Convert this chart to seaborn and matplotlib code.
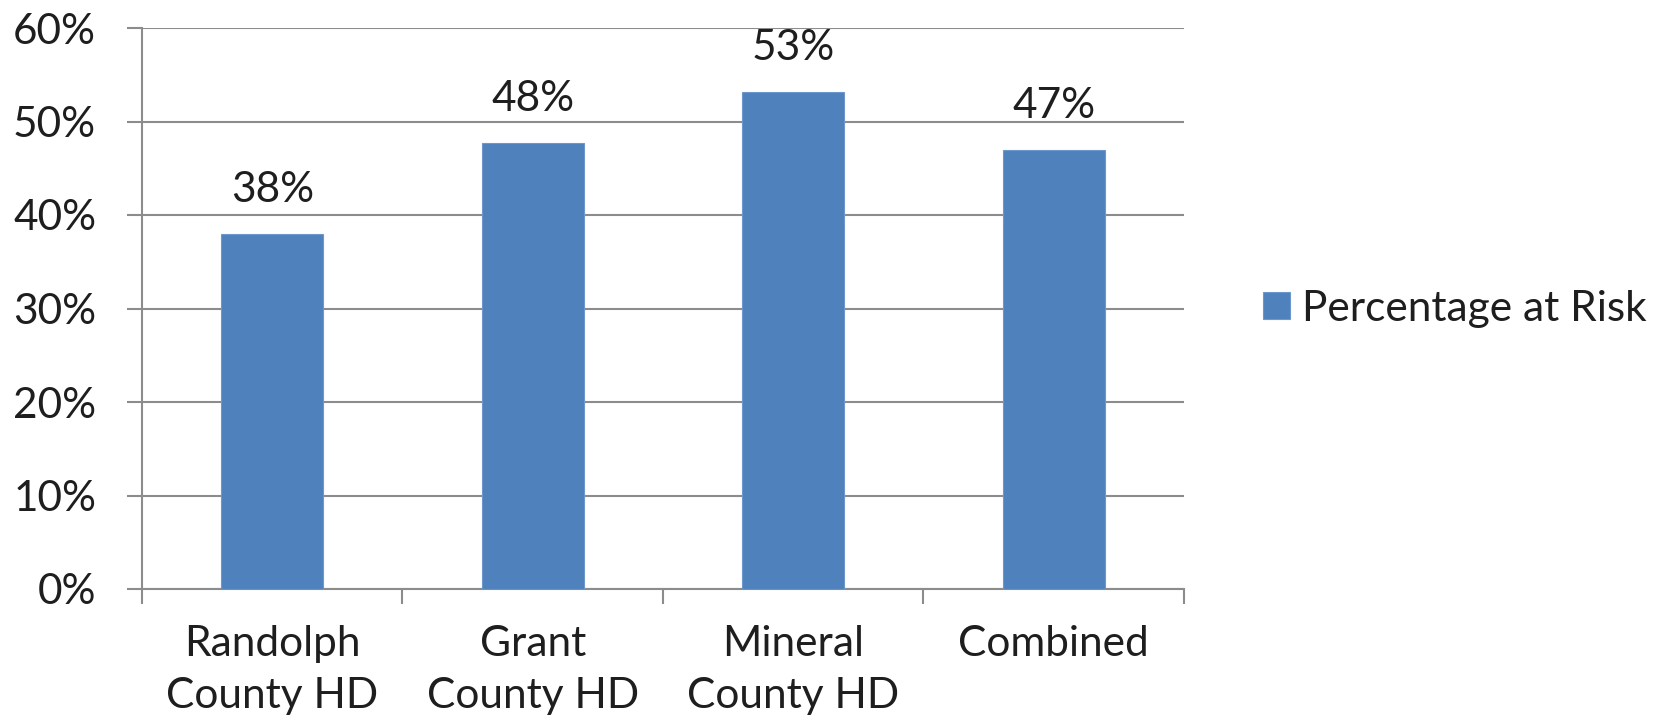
import matplotlib
matplotlib.use("Agg")
import matplotlib.pyplot as plt
import seaborn as sns
import pandas as pd
from matplotlib.ticker import FuncFormatter, FixedLocator

categories = ["Randolph\nCounty HD", "Grant\nCounty HD", "Mineral\nCounty HD", "Combined"]
values = [38.0, 47.7, 53.2, 46.9]
value_labels = ["38%", "48%", "53%", "47%"]
series_name = "Percentage at Risk"
y_ticks = [0, 10, 20, 30, 40, 50, 60]

sns.set_theme(style="white")
plt.rcParams['font.family'] = ['Lato', 'DejaVu Sans']

df = pd.DataFrame({"cat": categories, "val": values})

fig = plt.figure(figsize=(16.74, 7.2), dpi=100)
ax = fig.add_axes([142/1674, 1 - 589/720, (1184 - 142)/1674, (589 - 28)/720])

bar_color = "#4F81BD"
sns.barplot(data=df, x="cat", y="val", color=bar_color, saturation=1, width=0.39,
            label=series_name, ax=ax, zorder=3, edgecolor="#6E98CC", linewidth=0.8)

ax.set_ylim(0, 60)
ax.set_xlim(-0.5, len(categories) - 0.5)
ax.set_yticks(y_ticks)
ax.yaxis.set_major_formatter(FuncFormatter(lambda v, p: f"{int(v)}%"))
ax.yaxis.grid(True, color="#8C8C8C", linewidth=1.5, zorder=0)
ax.set_axisbelow(True)
ax.set_xlabel("")
ax.set_ylabel("")

grid_col = "#8C8C8C"
for s in ["top", "right"]:
    ax.spines[s].set_visible(False)
for s in ["left", "bottom"]:
    ax.spines[s].set_color(grid_col)
    ax.spines[s].set_linewidth(1.5)

fs = 30.5
txt_col = "#1E1E1E"
ax.tick_params(axis="y", which="major", length=11, width=1.5, color=grid_col,
               labelsize=fs, labelcolor=txt_col, pad=22, left=True)
ax.tick_params(axis="x", which="major", length=0, labelsize=fs, labelcolor=txt_col, pad=26)
ax.xaxis.set_minor_locator(FixedLocator([i - 0.5 for i in range(len(categories) + 1)]))
ax.tick_params(axis="x", which="minor", length=11, width=1.5, color=grid_col, bottom=True)
for lbl in ax.get_xticklabels():
    lbl.set_linespacing(1.45)

ax.bar_label(ax.containers[0], labels=value_labels, padding=18, fontsize=fs, color=txt_col)

leg = ax.legend(loc="center left", bbox_to_anchor=(1.06, 0.5), frameon=False,
                fontsize=fs, handlelength=0.62, handleheight=0.62, handletextpad=0.3,
                borderaxespad=0)
leg.get_texts()[0].set_color(txt_col)

fig.savefig("out.png", dpi=100)
